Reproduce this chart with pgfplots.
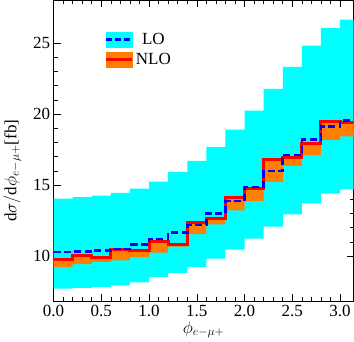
\documentclass[border=0pt]{standalone}
\usepackage{fontspec}
\setmainfont{Liberation Serif}
\usepackage{pgfplots}
\usepackage{pgfplotstable}
\pgfplotsset{compat=1.18}
\usepgfplotslibrary{fillbetween}
\definecolor{locyan}{RGB}{0,255,255}
\definecolor{nloorange}{RGB}{255,128,0}
\definecolor{nlored}{RGB}{255,0,0}
\definecolor{loblue}{RGB}{0,0,255}

% bin left edges, last row repeats the final bin at x = pi
\pgfplotstableread{
x       lo     up     c
0.0     7.72   14.05  10.30
0.2     7.77   14.15  10.34
0.4     7.84   14.27  10.42
0.6     7.95   14.45  10.50
0.8     8.16   14.76  10.82
1.0     8.52   15.25  11.22
1.2     8.83   15.91  11.66
1.4     9.25   16.71  12.19
1.6     9.82   17.70  13.02
1.8     10.47  18.90  13.88
2.0     11.24  20.24  14.88
2.2     12.08  21.77  16.00
2.4     12.94  23.33  17.11
2.6     13.72  24.81  18.22
2.8     14.40  26.06  19.14
3.0     14.71  26.65  19.56
3.14159 14.71  26.65  19.56
}\LOdata

\pgfplotstableread{
x       lo     up     c
0.0     9.25   9.82   9.74
0.2     9.45   10.12  10.04
0.4     9.60   10.01  9.93
0.6     9.71   10.55  10.47
0.8     9.94   10.45  10.37
1.0     10.25  11.11  11.03
1.2     10.68  10.90  10.82
1.4     11.55  12.44  12.36
1.6     12.24  12.72  12.64
1.8     13.23  14.23  14.15
2.0     13.88  14.83  14.75
2.2     15.23  16.86  16.78
2.4     16.36  17.00  16.92
2.6     17.11  18.04  17.96
2.8     18.19  19.57  19.49
3.0     18.43  19.50  19.42
3.14159 18.43  19.50  19.42
}\NLOdata

\begin{document}
\begin{tikzpicture}[font=\fontsize{17}{20}\selectfont]
\begin{axis}[
  scale only axis,
  width=299bp, height=300bp,
  xmin=0, xmax=3.14159,
  ymin=6.82, ymax=28.0,
  xtick={0,0.5,1,1.5,2,2.5,3},
  ytick={10,15,20,25},
  minor x tick num=4,
  minor y tick num=4,
  tick align=inside,
  major tick length=7bp,
  minor tick length=4bp,
  tick style={black, line width=0.6pt},
  axis line style={line width=0.8pt},
  /pgf/number format/assume math mode=true,
  xticklabel style={/pgf/number format/fixed, /pgf/number format/fixed zerofill, /pgf/number format/precision=1},
  xlabel={$\phi_{e-\mu+}$},
  xlabel style={yshift=2bp},
  ylabel={d$\sigma/$d$\phi_{e-\mu+}$[fb]},
  ylabel style={at={(ticklabel cs:0.434)}, yshift=5bp},
  legend style={draw=none, fill=none, at={(axis description cs:0.16,0.905)}, anchor=north west,
    row sep=3bp, /tikz/every even column/.append style={column sep=6bp}},
  legend cell align=center,
]
\addlegendimage{legend image code/.code={
  \fill[locyan] (0bp,-7.5bp) rectangle (26bp,7.5bp);
  \draw[loblue, line width=2.6bp, dash pattern=on 6bp off 3bp] (0bp,0bp) -- (26bp,0bp);}}
\addlegendentry{LO}
\addlegendimage{legend image code/.code={
  \fill[nloorange] (0bp,-7.5bp) rectangle (26bp,7.5bp);
  \draw[nlored, line width=3bp] (0bp,0bp) -- (26bp,0bp);}}
\addlegendentry{NLO}

\addplot[const plot, draw=none, name path=LOup, forget plot] table[x=x, y=up] {\LOdata};
\addplot[const plot, draw=none, name path=LOlo, forget plot] table[x=x, y=lo] {\LOdata};
\addplot[fill=locyan, draw=none, forget plot] fill between[of=LOup and LOlo];

\addplot[const plot, draw=none, name path=NLOup, forget plot] table[x=x, y=up] {\NLOdata};
\addplot[const plot, draw=none, name path=NLOlo, forget plot] table[x=x, y=lo] {\NLOdata};
\addplot[fill=nloorange, draw=none, forget plot] fill between[of=NLOup and NLOlo];

\addplot[const plot, nlored, line width=3bp, forget plot] table[x=x, y=c] {\NLOdata};
\addplot[const plot, loblue, line width=2.6bp, dash pattern=on 7bp off 3.5bp, forget plot] table[x=x, y=c] {\LOdata};
\end{axis}
\end{tikzpicture}
\end{document}
